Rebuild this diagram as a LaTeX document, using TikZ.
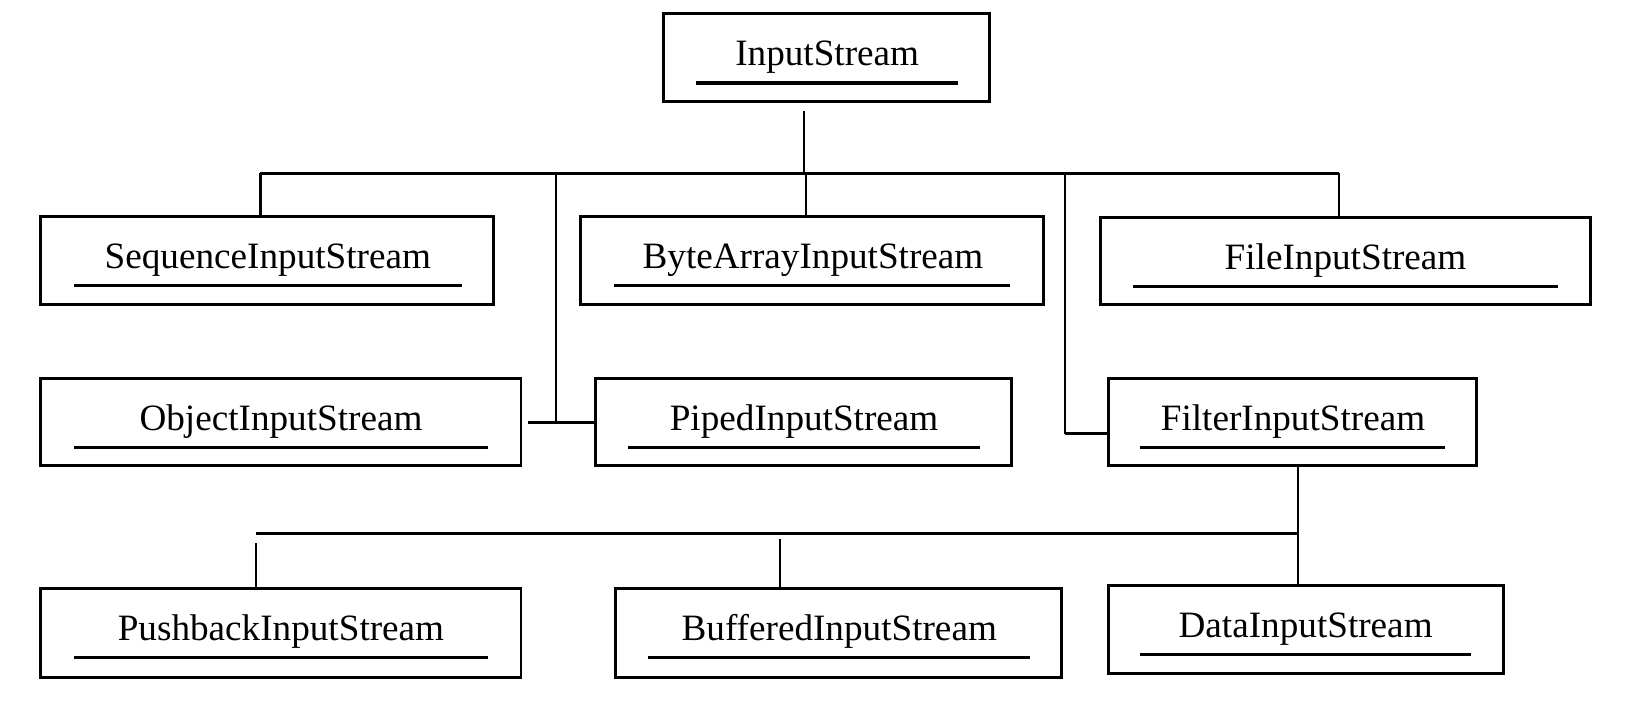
\documentclass[tikz,border=0pt]{standalone}
\usepackage{fontspec}
\setmainfont{Liberation Serif}
\usetikzlibrary{fit}
\newcommand\classbox[9]{%
  \node[box, fit={(#2,#3)(#4,#5)}] (#1) {};
  \node[lbl] (#1-t) at (#6,#3+49.5) {#9};
  \draw[uline] (#7,#3+66) coordinate (#1-ul) -- (#8,#3+66) coordinate (#1-ur);
}
\begin{document}
\begin{tikzpicture}[x=0.5pt,y=-0.5pt,
  box/.style={draw, line width=1.4pt, inner sep=0pt, rectangle},
  lbl/.style={anchor=base, inner sep=0pt, font=\fontsize{17.7}{20}\selectfont},
  uline/.style={line width=1.5pt},
  conn/.style={line width=1pt},
  bus/.style={line width=1.4pt}]
\useasboundingbox (0,0) rectangle (1568,684);

\classbox{in}{632}{13}{942}{97}{787.5}{663}{912}{InputStream}
\classbox{seq}{39}{206}{470}{290}{255}{70}{440}{SequenceInputStream}
\classbox{ba}{553}{206}{993}{290}{774}{585}{962}{ByteArrayInputStream}
\classbox{file}{1048}{207}{1514}{290}{1281}{1079}{1483}{FileInputStream}
\classbox{obj}{39}{360}{496}{443}{267.5}{70}{465}{ObjectInputStream}
\classbox{pipe}{567}{360}{963}{443}{765.5}{598}{933}{PipedInputStream}
\classbox{filt}{1055}{360}{1406}{443}{1231}{1085}{1376}{FilterInputStream}
\classbox{push}{39}{560}{496}{645}{267.5}{70}{465}{PushbackInputStream}
\classbox{buf}{586}{560}{1011}{645}{799}{617}{981}{BufferedInputStream}
\classbox{data}{1055}{557}{1431}{641}{1243}{1085}{1400}{DataInputStream}

% first hierarchy
\coordinate (t0) at (765,106);
\coordinate (t1) at (765,165);
\coordinate (bL) at (248,165);
\coordinate (bR) at (1275,165);
\coordinate (bB) at (767,165);
\coordinate (bP) at (529,165);
\coordinate (bF) at (1014,165);
\coordinate (pL) at (503,402);
\draw[conn] (t0) -- (t1);
\draw[bus] (bL) -- (bR);
\draw[conn] (bL) -- (bL |- seq.north);
\draw[conn] (bB) -- (bB |- ba.north);
\draw[conn] (bR) -- (bR |- file.north);
\draw[conn] (bP) -- (bP |- pL);
\draw[bus] (pL) -- (pL -| pipe.west);
\draw[conn] (bF) -- (1014,413) coordinate (fC);
\draw[bus] (fC) -- (fC -| filt.west);

% second hierarchy
\coordinate (f0) at (1236,443);
\coordinate (f1) at (1236,508);
\coordinate (gL) at (244,508);
\coordinate (dP) at (244,517);
\coordinate (dB) at (743,513);
\draw[conn] (f0) -- (f0 |- data.north);
\draw[bus] (gL) -- (f1);
\draw[conn] (dP) -- (dP |- push.north);
\draw[conn] (dB) -- (dB |- buf.north);
\end{tikzpicture}
\end{document}
